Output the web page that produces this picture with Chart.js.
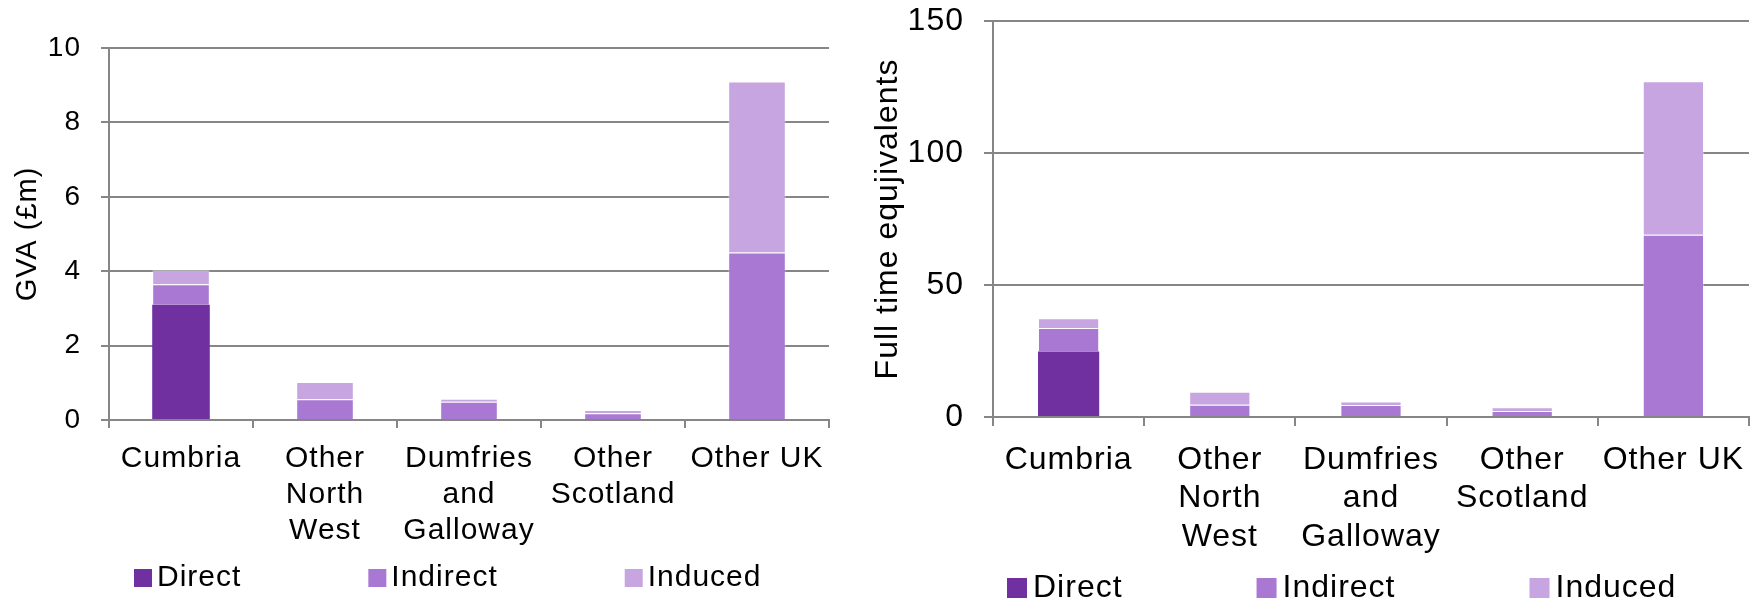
<!DOCTYPE html>
<html>
<head>
<meta charset="utf-8">
<script src="https://cdn.jsdelivr.net/npm/chart.js@4.4.1/dist/chart.umd.min.js"></script>
<style>
  html, body { margin: 0; padding: 0; background: #fff; }
  #wrap { position: relative; width: 1762px; height: 604px; overflow: hidden; }
  #gva { position: absolute; left: 0; top: 0; }
  #fte { position: absolute; left: 860px; top: 0; }
</style>
</head>
<body>
<div id="wrap">
  <canvas id="gva" width="860" height="604"></canvas>
  <canvas id="fte" width="902" height="604"></canvas>
</div>
<script>
// Regions (multi-line labels as arrays)
const categories = ['Cumbria', ['Other', 'North', 'West'], ['Dumfries', 'and', 'Galloway'], ['Other', 'Scotland'], 'Other UK'];
const seriesNames = ['Direct', 'Indirect', 'Induced'];
const seriesColors = ['#7030A0', '#A878D2', '#C6A5E0'];

// Gross value added, £m
const gvaDirect   = [3.1, 0, 0, 0, 0];
const gvaIndirect = [0.55, 0.56, 0.49, 0.18, 4.5];
const gvaInduced  = [0.38, 0.46, 0.08, 0.09, 4.6];

// Employment, full time equivalents
const fteDirect   = [24.8, 0, 0, 0, 0];
const fteIndirect = [8.9, 4.6, 4.5, 2.3, 69];
const fteInduced  = [3.7, 5.0, 1.4, 1.4, 58.2];

// Value axis ticks
const gvaTicks = [0, 2, 4, 6, 8, 10];
const fteTicks = [0, 50, 100, 150];

const FONT = '"Liberation Sans", Arial, sans-serif';
const GREY = '#868686';
Chart.defaults.font.family = FONT;
Chart.defaults.color = '#000';

// Slightly spaced text, applied before layout and before drawing
const spacedText = {
  id: 'spacedText',
  beforeUpdate(chart, args, opts) { chart.ctx.letterSpacing = opts.spacing || '0px'; },
  beforeDraw(chart, args, opts) { chart.ctx.letterSpacing = opts.spacing || '0px'; }
};

// Legend row under the category labels, built from the datasets
const bottomLegend = {
  id: 'bottomLegend',
  afterDraw(chart, args, opts) {
    const ctx = chart.ctx;
    ctx.save();
    ctx.font = opts.fontSize + 'px ' + FONT;
    ctx.textBaseline = 'middle';
    ctx.textAlign = 'left';
    let x = opts.x;
    chart.data.datasets.forEach(ds => {
      ctx.fillStyle = ds.backgroundColor;
      ctx.fillRect(x, opts.y - opts.box / 2, opts.box, opts.box);
      ctx.fillStyle = '#000';
      const tx = x + opts.box + opts.textGap;
      ctx.fillText(ds.label, tx, opts.y);
      x = tx + ctx.measureText(ds.label).width + opts.itemGap;
    });
    ctx.restore();
  }
};

function makeDatasets(values, barPct) {
  return values.map((data, i) => ({
    label: seriesNames[i],
    data: data,
    backgroundColor: seriesColors[i],
    borderColor: 'rgba(255,255,255,0.3)',
    borderWidth: i === 0 ? 0 : 1,
    categoryPercentage: 1,
    barPercentage: barPct
  }));
}

function makeChart(id, cfg) {
  return new Chart(document.getElementById(id), {
    type: 'bar',
    data: { labels: categories, datasets: makeDatasets(cfg.values, cfg.barPct) },
    plugins: [spacedText, bottomLegend],
    options: {
      responsive: false,
      animation: false,
      layout: { padding: { top: cfg.padTop, right: cfg.padRight, left: 0, bottom: 0 } },
      plugins: {
        legend: { display: false },
        tooltip: { enabled: false },
        spacedText: { spacing: cfg.spacing },
        bottomLegend: cfg.legend
      },
      scales: {
        x: {
          stacked: true,
          ticks: {
            color: '#000',
            font: { size: cfg.catFont, lineHeight: cfg.catLine },
            padding: cfg.catPad,
            maxRotation: 0,
            autoSkip: false
          },
          grid: { display: true, drawOnChartArea: false, drawTicks: true, offset: true,
                  tickLength: cfg.tick, color: GREY, lineWidth: 2 },
          border: { display: true, color: GREY, width: 2 },
          afterFit(scale) {
            scale.height = cfg.xHeight;
            scale.paddingLeft = 0;
            scale.paddingRight = 0;
          }
        },
        y: {
          stacked: true,
          min: cfg.ticks[0],
          max: cfg.ticks[cfg.ticks.length - 1],
          afterBuildTicks(scale) { scale.ticks = cfg.ticks.map(v => ({ value: v })); },
          ticks: { color: '#000', font: { size: cfg.tickFont }, padding: 20 },
          grid: { color: GREY, lineWidth: 2, drawTicks: true, tickLength: cfg.tick },
          border: { display: true, color: GREY, width: 2 },
          title: {
            display: true,
            text: cfg.title,
            color: '#000',
            font: { size: cfg.titleFont },
            padding: { top: cfg.titlePad, bottom: 0 }
          },
          afterFit(scale) {
            scale.width = cfg.yWidth;
            scale.paddingTop = 0;
            scale.paddingBottom = 0;
          }
        }
      }
    }
  });
}

makeChart('gva', {
  values: [gvaDirect, gvaIndirect, gvaInduced],
  ticks: gvaTicks,
  title: 'GVA (£m)',
  barPct: 0.4,
  padTop: 48, padRight: 31,
  yWidth: 109, xHeight: 184,
  tick: 8,
  tickFont: 28, catFont: 30, catLine: 1.2, catPad: 13,
  titleFont: 29, titlePad: 11,
  spacing: '1px',
  legend: { x: 134, y: 578, box: 18, textGap: 5, itemGap: 127, fontSize: 30 }
});

makeChart('fte', {
  values: [fteDirect, fteIndirect, fteInduced],
  ticks: fteTicks,
  title: 'Full time equjivalents',
  barPct: 0.405,
  padTop: 21, padRight: 13,
  yWidth: 133, xHeight: 187,
  tick: 9,
  tickFont: 32, catFont: 32, catLine: 1.2, catPad: 15,
  titleFont: 32, titlePad: 9,
  spacing: '1px',
  legend: { x: 147, y: 588, box: 20, textGap: 6, itemGap: 134, fontSize: 32 }
});
</script>
</body>
</html>
